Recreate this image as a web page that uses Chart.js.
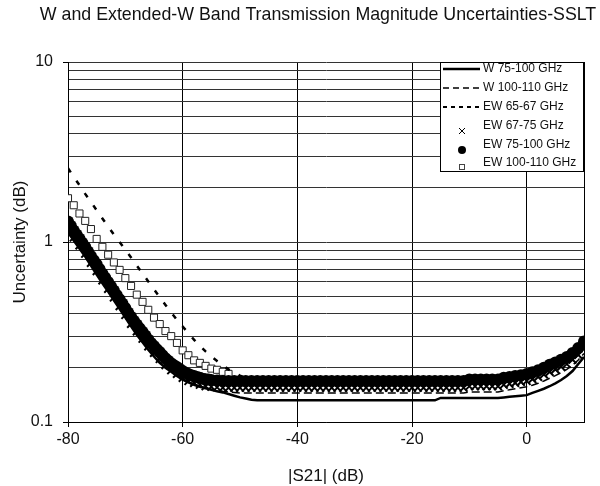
<!DOCTYPE html>
<html>
<head>
<meta charset="utf-8">
<script src="https://cdn.jsdelivr.net/npm/chart.js@4.4.1/dist/chart.umd.min.js"></script>
<style>
html, body { margin: 0; padding: 0; background: #fff; }
#wrap { width: 600px; height: 486px; }
</style>
</head>
<body>
<div id="wrap"><canvas id="myChart" width="600" height="486"></canvas></div>
<script>
const chartTitle = 'W and Extended-W Band Transmission Magnitude Uncertainties-SSLT';
const seriesNames = ['W 75-100 GHz', 'W 100-110 GHz', 'EW 65-67 GHz', 'EW 67-75 GHz', 'EW 75-100 GHz', 'EW 100-110 GHz'];

// |S21| (dB), 1 dB steps
const dbGrid = [-80,-79,-78,-77,-76,-75,-74,-73,-72,-71,
  -70,-69,-68,-67,-66,-65,-64,-63,-62,-61,
  -60,-59,-58,-57,-56,-55,-54,-53,-52,-51,
  -50,-49,-48,-47,-46,-45,-44,-43,-42,-41,
  -40,-39,-38,-37,-36,-35,-34,-33,-32,-31,
  -30,-29,-28,-27,-26,-25,-24,-23,-22,-21,
  -20,-19,-18,-17,-16,-15,-14,-13,-12,-11,
  -10,-9,-8,-7,-6,-5,-4,-3,-2,-1,
  0,1,2,3,4,5,6,7,8,9,10];

// finer steps on the steep part for the EW 75-100 markers
const dbDense = [-80,-79.5,-79,-78.5,-78,-77.5,-77,-76.5,-76,-75.5,
  -75,-74.5,-74,-73.5,-73,-72.5,-72,-71.5,-71,-70.5,
  -70,-69.5,-69,-68.5,-68,-67.5,-67,-66.5,-66,-65.5,
  -65,-64.5,-64,-63.5,-63,-62.5,-62,-61.5,-61,-60.5,
  -60,-59.5,-59,-58.5,-58,-57.5,-57,-56.5,-56,-55.5,
  -55,
  -54,-53,-52,-51,
  -50,-49,-48,-47,-46,-45,-44,-43,-42,-41,
  -40,-39,-38,-37,-36,-35,-34,-33,-32,-31,
  -30,-29,-28,-27,-26,-25,-24,-23,-22,-21,
  -20,-19,-18,-17,-16,-15,-14,-13,-12,-11,
  -10,-9,-8,-7,-6,-5,-4,-3,-2,-1,
  0,1,2,3,4,5,6,7,8,9,10];

// uncertainty (dB)
const w75100 = [1.13,1.02,0.92,0.83,0.74,0.66,0.59,0.53,0.475,0.425,
  0.38,0.34,0.305,0.277,0.252,0.231,0.213,0.2,0.19,0.18,
  0.172,0.166,0.161,0.157,0.154,0.151,0.148,0.146,0.143,0.14,
  0.137,0.135,0.133,0.132,0.132,0.132,0.132,0.132,0.132,0.132,
  0.132,0.132,0.132,0.132,0.132,0.132,0.132,0.132,0.132,0.132,
  0.132,0.132,0.132,0.132,0.132,0.132,0.132,0.132,0.132,0.132,
  0.132,0.132,0.132,0.132,0.132,0.136,0.136,0.136,0.136,0.136,
  0.136,0.136,0.136,0.136,0.136,0.136,0.137,0.138,0.139,0.14,
  0.141,0.145,0.149,0.153,0.158,0.164,0.171,0.18,0.192,0.21,0.23];

const w100110 = [1.15,1.03,0.93,0.835,0.745,0.668,0.594,0.533,0.477,0.427,
  0.381,0.341,0.309,0.281,0.255,0.234,0.216,0.2,0.192,0.182,
  0.174,0.167,0.162,0.158,0.155,0.152,0.15,0.148,0.147,0.146,
  0.145,0.145,0.145,0.145,0.145,0.145,0.145,0.145,0.145,0.145,
  0.145,0.145,0.145,0.145,0.145,0.145,0.145,0.145,0.145,0.145,
  0.145,0.145,0.145,0.145,0.145,0.145,0.145,0.145,0.145,0.145,
  0.145,0.145,0.145,0.145,0.145,0.145,0.145,0.145,0.145,0.145,
  0.147,0.147,0.147,0.147,0.147,0.147,0.149,0.151,0.153,0.155,
  0.157,0.16,0.164,0.169,0.175,0.181,0.188,0.196,0.207,0.221,0.24];

const ew6567 = [2.57,2.3,2.07,1.85,1.67,1.5,1.35,1.22,1.1,1.0,
  0.906,0.82,0.74,0.668,0.604,0.546,0.493,0.447,0.405,0.37,
  0.339,0.311,0.286,0.265,0.247,0.231,0.218,0.206,0.196,0.188,
  0.181,0.176,0.172,0.169,0.167,0.166,0.166,0.166,0.166,0.166,
  0.166,0.166,0.166,0.166,0.166,0.166,0.166,0.166,0.166,0.166,
  0.166,0.166,0.166,0.166,0.166,0.166,0.166,0.166,0.166,0.166,
  0.166,0.166,0.166,0.166,0.166,0.166,0.166,0.166,0.166,0.166,
  0.168,0.168,0.168,0.168,0.168,0.168,0.171,0.173,0.175,0.178,
  0.181,0.185,0.19,0.196,0.203,0.21,0.217,0.226,0.238,0.253,0.273];

const ew6775 = [1.19,1.06,0.957,0.861,0.766,0.689,0.612,0.549,0.492,0.44,
  0.393,0.351,0.319,0.29,0.263,0.242,0.224,0.207,0.194,0.185,
  0.176,0.169,0.165,0.161,0.158,0.157,0.156,0.155,0.155,0.155,
  0.155,0.155,0.155,0.155,0.155,0.155,0.155,0.155,0.155,0.155,
  0.155,0.155,0.155,0.155,0.155,0.155,0.155,0.155,0.155,0.155,
  0.155,0.155,0.155,0.155,0.155,0.155,0.155,0.155,0.155,0.155,
  0.155,0.155,0.155,0.155,0.155,0.155,0.155,0.155,0.155,0.155,
  0.158,0.158,0.158,0.158,0.158,0.158,0.161,0.163,0.165,0.167,
  0.169,0.173,0.178,0.184,0.19,0.196,0.203,0.21,0.222,0.236,0.256];

// on dbDense
const ew75100 = [1.3,1.23,1.16,1.1,1.045,0.99,0.94,0.886,0.836,0.793,
  0.752,0.709,0.669,0.634,0.6,0.568,0.537,0.508,0.481,0.455,
  0.43,0.406,0.384,0.365,0.348,0.332,0.317,0.302,0.287,0.275,
  0.264,0.254,0.245,0.235,0.226,0.219,0.212,0.207,0.202,0.197,
  0.192,0.188,0.185,0.182,0.18,0.178,0.176,0.174,0.173,0.172,
  0.171,
  0.17,0.169,0.169,0.169,
  0.169,0.169,0.169,0.169,0.169,0.169,0.169,0.169,0.169,0.169,
  0.169,0.169,0.169,0.169,0.169,0.169,0.169,0.169,0.169,0.169,
  0.169,0.169,0.169,0.169,0.169,0.169,0.169,0.169,0.169,0.169,
  0.169,0.169,0.169,0.169,0.169,0.169,0.169,0.169,0.169,0.169,
  0.172,0.172,0.172,0.172,0.172,0.172,0.176,0.178,0.18,0.182,
  0.185,0.189,0.194,0.2,0.208,0.214,0.222,0.23,0.242,0.258,0.28];

// -80 .. -52 dB only
const ew100110 = [1.75,1.6,1.44,1.31,1.18,1.04,0.94,0.85,0.77,0.7,
  0.63,0.57,0.51,0.465,0.42,0.38,0.35,0.32,0.3,0.275,
  0.25,0.235,0.22,0.213,0.205,0.198,0.195,0.19,0.185];

const xTicks = [-80, -60, -40, -20, 0, 10];
const yTicks = [0.1,0.2,0.3,0.4,0.5,0.6,0.7,0.8,0.9,1,2,3,4,5,6,7,8,9,10];
const yLabelled = [0.1, 1, 10];

const FONT = '"Liberation Sans", Arial, sans-serif';
const CLEAR = 'rgba(0,0,0,0)';

function pts(xs, ys) {
    return ys.map((y, i) => ({ x: xs[i], y: y }));
}

// title on top and the boxed legend inside the plot
const overlayPlugin = {
    id: 'overlay',
    afterDraw(chart) {
        const c = chart.ctx;
        c.save();
        c.fillStyle = '#111';
        c.font = '17.8px ' + FONT;
        c.textAlign = 'center';
        c.textBaseline = 'middle';
        c.fillText(chartTitle, 318, 15);

        c.fillStyle = '#fff';
        c.fillRect(440.5, 62.5, 143, 109);
        c.strokeStyle = '#000';
        c.lineWidth = 1;
        c.strokeRect(440.5, 62.5, 143, 109);

        const rowY = [69, 88, 107, 126, 145, 163];
        c.font = '12px ' + FONT;
        c.textAlign = 'left';
        seriesNames.forEach((name, i) => {
            const y = rowY[i];
            c.fillStyle = '#111';
            c.fillText(name, 483, y);
            c.strokeStyle = '#000';
            c.fillStyle = '#000';
            if (i < 3) {
                c.beginPath();
                c.setLineDash([[], [6, 4], [4, 4]][i]);
                c.lineWidth = [2.5, 1.5, 2][i];
                c.moveTo(443, y);
                c.lineTo(480, y);
                c.stroke();
                c.setLineDash([]);
            } else if (i === 3) {
                c.lineWidth = 1;
                c.beginPath();
                c.moveTo(459, y + 2); c.lineTo(465, y + 8);
                c.moveTo(465, y + 2); c.lineTo(459, y + 8);
                c.stroke();
            } else if (i === 4) {
                c.beginPath();
                c.arc(462, y + 5, 4, 0, Math.PI * 2);
                c.fill();
            } else {
                c.lineWidth = 1;
                c.strokeStyle = '#444';
                c.strokeRect(459.5, y + 1.5, 5, 5);
            }
        });
        c.restore();
    }
};

const ctx = document.getElementById('myChart').getContext('2d');
new Chart(ctx, {
    type: 'scatter',
    data: {
        datasets: [
            {
                label: seriesNames[0],
                data: pts(dbGrid, w75100),
                showLine: true,
                borderColor: '#000',
                borderWidth: 2.5,
                pointRadius: 0,
                order: 3
            },
            {
                label: seriesNames[1],
                data: pts(dbGrid, w100110),
                showLine: true,
                borderColor: '#000',
                borderWidth: 1.5,
                borderDash: [8, 4],
                pointRadius: 0,
                order: 4
            },
            {
                label: seriesNames[2],
                data: pts(dbGrid, ew6567),
                showLine: true,
                borderColor: '#000',
                borderWidth: 2.5,
                borderDash: [5, 10],
                pointRadius: 0,
                order: 5
            },
            {
                label: seriesNames[3],
                data: pts(dbGrid, ew6775),
                showLine: false,
                pointStyle: 'crossRot',
                pointRadius: 5.5,
                borderColor: '#000',
                borderWidth: 2,
                order: 2
            },
            {
                label: seriesNames[4],
                data: pts(dbDense, ew75100),
                showLine: false,
                pointStyle: 'circle',
                pointRadius: 6,
                backgroundColor: '#000',
                borderColor: '#000',
                borderWidth: 0,
                order: 1
            },
            {
                label: seriesNames[5],
                data: pts(dbGrid, ew100110),
                showLine: false,
                pointStyle: 'rect',
                pointRadius: 5,
                backgroundColor: '#fff',
                borderColor: '#222',
                borderWidth: 1,
                order: 6
            }
        ]
    },
    options: {
        responsive: false,
        animation: false,
        events: [],
        layout: { padding: { left: 0, right: 16, top: 62, bottom: 0 } },
        plugins: {
            legend: { display: false },
            title: { display: false },
            tooltip: { enabled: false }
        },
        scales: {
            x: {
                type: 'linear',
                min: -80,
                max: 10,
                afterBuildTicks: (s) => { s.ticks = xTicks.map(v => ({ value: v })); },
                afterFit: (s) => { s.height = 64; },
                grid: {
                    color: '#000',
                    lineWidth: 1,
                    tickLength: 5,
                    tickColor: (c) => (c.tick && c.tick.value === 10) ? CLEAR : '#000'
                },
                border: { color: '#000', width: 1 },
                ticks: {
                    font: { family: FONT, size: 16 },
                    color: '#111',
                    padding: 3,
                    maxRotation: 0,
                    autoSkip: false,
                    callback: (v) => v === 10 ? '' : String(v)
                },
                title: {
                    display: true,
                    text: '|S21| (dB)',
                    font: { family: FONT, size: 17, lineHeight: 1 },
                    color: '#111',
                    padding: { top: 0, bottom: 1 }
                }
            },
            y: {
                type: 'logarithmic',
                min: 0.1,
                max: 10,
                afterBuildTicks: (s) => { s.ticks = yTicks.map(v => ({ value: v })); },
                afterFit: (s) => { s.width = 68; },
                grid: {
                    color: '#333',
                    lineWidth: 1,
                    tickLength: 5,
                    tickColor: (c) => (c.tick && yLabelled.includes(c.tick.value)) ? '#000' : CLEAR
                },
                border: { color: '#000', width: 1 },
                ticks: {
                    font: { family: FONT, size: 16 },
                    color: '#111',
                    padding: 10,
                    autoSkip: false,
                    callback: (v) => yLabelled.includes(v) ? String(v) : ''
                },
                title: {
                    display: true,
                    text: 'Uncertainty (dB)',
                    font: { family: FONT, size: 17 },
                    color: '#111',
                    padding: { top: 10, bottom: 0 }
                }
            }
        }
    },
    plugins: [overlayPlugin]
});
</script>
</body>
</html>
